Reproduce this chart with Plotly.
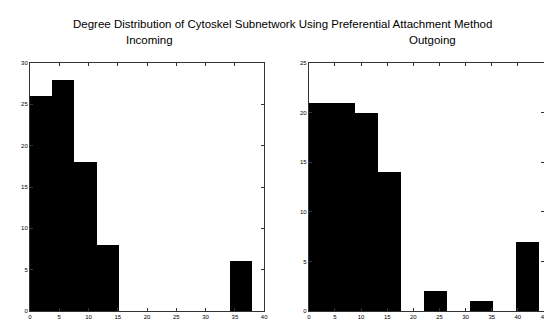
import plotly.graph_objects as go
from plotly.subplots import make_subplots

# Incoming degree histogram (10 bins over 0..38)
in_edges = [0, 3.8, 7.6, 11.4, 15.2, 19.0, 22.8, 26.6, 30.4, 34.2, 38.0]
in_counts = [26, 28, 18, 8, 0, 0, 0, 0, 0, 6]

# Outgoing degree histogram (10 bins over 0..44)
out_edges = [0, 4.4, 8.8, 13.2, 17.6, 22.0, 26.4, 30.8, 35.2, 39.6, 44.0]
out_counts = [21, 21, 20, 14, 0, 2, 0, 1, 0, 7]

in_xticks = [0, 5, 10, 15, 20, 25, 30, 35, 40]
in_yticks = [0, 5, 10, 15, 20, 25, 30]
out_xticks = [0, 5, 10, 15, 20, 25, 30, 35, 40, 45]
out_yticks = [0, 5, 10, 15, 20, 25]

title = "Degree Distribution of Cytoskel Subnetwork Using Preferential Attachment Method"
sub_titles = ["Incoming", "Outgoing"]


def centers(edges):
    return [(a + b) / 2 for a, b in zip(edges[:-1], edges[1:])]


def widths(edges):
    return [b - a for a, b in zip(edges[:-1], edges[1:])]


fig = make_subplots(rows=1, cols=2)
fig.add_trace(go.Bar(x=centers(in_edges), y=in_counts, width=widths(in_edges),
                     marker=dict(color="black", line=dict(width=0))),
              row=1, col=1)
fig.add_trace(go.Bar(x=centers(out_edges), y=out_counts, width=widths(out_edges),
                     marker=dict(color="black", line=dict(width=0))),
              row=1, col=2)

W, H = 552, 324
ml, mr, mt, mb = 22, 12, 55, 12
pw = W - ml - mr
ph = H - mt - mb

axis_common = dict(showline=True, mirror="ticks", linecolor="#333", linewidth=1,
                   ticks="inside", ticklen=3, tickcolor="#333", showgrid=False,
                   zeroline=False, tickfont=dict(size=6, color="black", family="Arial"))

fig.update_layout(
    width=W, height=H, showlegend=False,
    paper_bgcolor="white", plot_bgcolor="white",
    margin=dict(l=ml, r=mr, t=mt, b=mb),
    bargap=0,
    xaxis=dict(domain=[0, (258 - ml) / pw], range=[0, 40], tickvals=in_xticks, **axis_common),
    yaxis=dict(range=[0, 30], tickvals=in_yticks, **axis_common),
    xaxis2=dict(domain=[(303 - ml) / pw, 1], range=[0, 45], tickvals=out_xticks, **axis_common),
    yaxis2=dict(range=[0, 25], tickvals=out_yticks, **axis_common),
)


def ypaper(px):
    return 1 + (mt - px) / ph


def xpaper(px):
    return (px - ml) / pw


font = dict(size=11.5, color="black", family="Liberation Sans Narrow, Arial")
fig.add_annotation(text=title, x=xpaper(276), y=ypaper(15), xref="paper", yref="paper",
                   showarrow=False, xanchor="center", yanchor="middle", font=font)
fig.add_annotation(text=sub_titles[0], x=xpaper(142), y=ypaper(31), xref="paper", yref="paper",
                   showarrow=False, xanchor="center", yanchor="middle", font=font)
fig.add_annotation(text=sub_titles[1], x=xpaper(428), y=ypaper(31), xref="paper", yref="paper",
                   showarrow=False, xanchor="center", yanchor="middle", font=font)

fig.write_html("out.html")
